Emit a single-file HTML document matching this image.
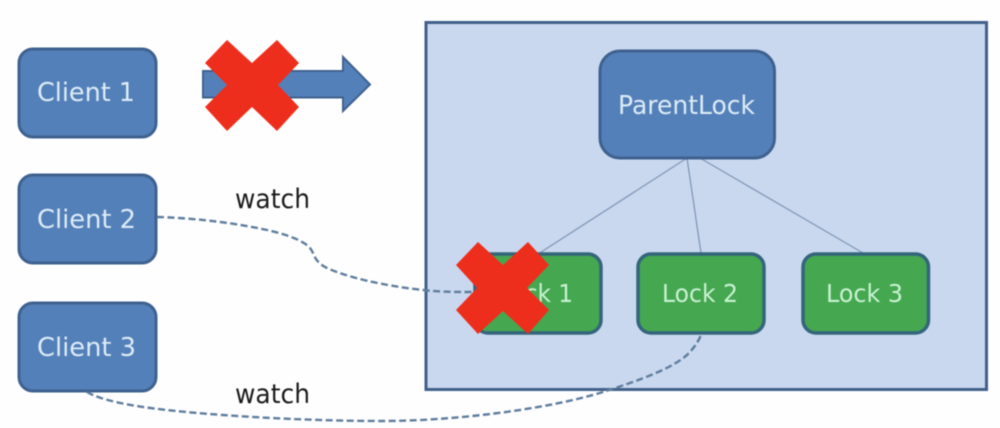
<!DOCTYPE html>
<html>
<head>
<meta charset="utf-8">
<style>
html,body{margin:0;padding:0;background:#fefefe;width:1000px;height:428px;overflow:hidden}
svg{display:block;filter:blur(.5px)}
text{font-family:"DejaVu Sans","Liberation Sans",sans-serif}
.c{fill:#dcebf6;font-size:26px}
.l{fill:#c9f1d2;font-size:25px}
.w{fill:#1c1c1c;font-size:27px}
.blue{fill:#5480b9;stroke:#3f6190;stroke-width:3}
.green{fill:#45a750;stroke:#34657c;stroke-width:3.5}
.dash{fill:none;stroke:#5f7d9e;stroke-width:2.4;stroke-dasharray:7 3.5}
.thin{stroke:#8297b8;stroke-width:1.3}
.x{fill:#ee2e1c}
</style>
</head>
<body>
<svg width="1000" height="428" viewBox="0 0 1000 428" xmlns="http://www.w3.org/2000/svg">
<rect width="1000" height="428" fill="#fefefe"/>

<!-- Container -->
<rect x="426" y="22.500" width="560.500" height="367" fill="#c9d8ee" stroke="#41608a" stroke-width="3"/>

<!-- Tree lines -->
<line x1="687" y1="158" x2="535" y2="256" class="thin"/>
<line x1="687" y1="158" x2="701" y2="253" class="thin"/>
<line x1="700" y1="158" x2="863" y2="253" class="thin"/>

<!-- Clients -->
<rect x="19" y="49" width="137" height="88" rx="14" class="blue"/>
<rect x="19" y="175" width="137" height="88" rx="14" class="blue"/>
<rect x="19" y="303" width="137" height="88" rx="14" class="blue"/>
<text x="37" y="101" class="c" textLength="98" lengthAdjust="spacingAndGlyphs">Client 1</text>
<text x="37" y="228" class="c" textLength="99" lengthAdjust="spacingAndGlyphs">Client 2</text>
<text x="37" y="356" class="c" textLength="99" lengthAdjust="spacingAndGlyphs">Client 3</text>

<!-- ParentLock -->
<rect x="600" y="51" width="174.500" height="107" rx="20" class="blue"/>
<text x="618" y="114" class="c" textLength="137" lengthAdjust="spacingAndGlyphs">ParentLock</text>

<!-- Locks -->
<rect x="475" y="254" width="126" height="79" rx="13" class="green"/>
<rect x="638" y="254" width="126" height="79" rx="13" class="green"/>
<rect x="803" y="254" width="125.500" height="79" rx="13" class="green"/>
<text x="498" y="302" class="l" textLength="75" lengthAdjust="spacingAndGlyphs">Lock 1</text>
<text x="662" y="302" class="l" textLength="76" lengthAdjust="spacingAndGlyphs">Lock 2</text>
<text x="826" y="302" class="l" textLength="77" lengthAdjust="spacingAndGlyphs">Lock 3</text>

<!-- Arrow -->
<polygon points="203,71 343,71 343,57 370,84.500 343,111 343,97.500 203,97.500" fill="#5480b9" stroke="#3f6190" stroke-width="2"/>

<!-- Dashed connectors -->
<path class="dash" d="M157,217 C195,218 235,223 267,230 C285,234 303,240 310,248 C315,254 313,260 325,267 C345,277 385,286 423,290 C440,292 455,292 472,292"/>
<path class="dash" d="M87,392 C100,400 130,406 167,410 C210,415 300,421 383,421 C450,421 545,410 603,392 C640,380 675,368 690,352 C696,345 699,340 701,335"/>

<!-- Watch labels -->
<text x="235" y="208" class="w" textLength="75" lengthAdjust="spacingAndGlyphs">watch</text>
<text x="235" y="403" class="w" textLength="75" lengthAdjust="spacingAndGlyphs">watch</text>

<!-- Red crosses -->
<polygon class="x" points="227,40 252,63 277,40 299,63 278,85 299,107 277,131 252,107 227,131 205,107 227,85 205,63"/>
<polygon class="x" points="478,242 503,265 528,242 549,265 527,288 549,310 528,334 503,311 478,334 456,310 477,288 456,265"/>
</svg>
</body>
</html>
